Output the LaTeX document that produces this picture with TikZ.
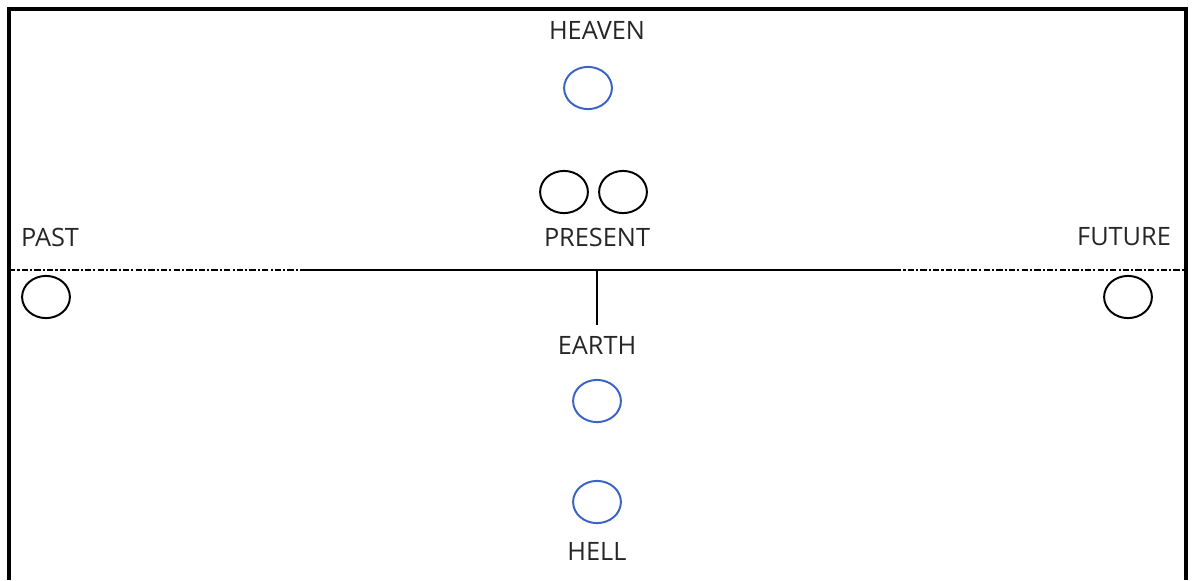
\documentclass[tikz,border=0pt]{standalone}
\usepackage{fontspec}
\setmainfont{Open Sans}
\usetikzlibrary{positioning,shapes.geometric}
\definecolor{ringblue}{HTML}{3A63C4}
\definecolor{textgray}{HTML}{262626}

\begin{document}
\begin{tikzpicture}[
  x=0.025cm, y=-0.025cm,
  font=\fontsize{18}{21}\selectfont,
  lbl/.style={text=textgray,inner sep=0pt,anchor=center},
  ring/.style={draw=black,line width=1.4pt,ellipse,minimum width=34pt,minimum height=30pt,inner sep=0pt},
  bluering/.style={ring,draw=ringblue},
  frame/.style={line width=2.4pt},
  axis/.style={line width=1.7pt},
  dashaxis/.style={line width=1.9pt,dash pattern=on 4.5pt off 1.5pt on 1.5pt off 1.5pt}
]
\useasboundingbox (0,0) rectangle (1194,580);
% frame, open at the bottom
\draw[frame] (9,580) -- (9,9) -- (1186,9) -- (1186,580);

% heaven
\node[lbl] (heaven) at (597,30) {HEAVEN};
\node[bluering] (heavenring) at (588,88) {};

% present
\node[ring] (presentl) at (564,192) {};
\node[ring] (presentr) at (623,192) {};
\node[lbl] (present) at (597,237) {PRESENT};
\node[lbl] (past) at (50,237) {PAST};
\node[lbl] (future) at (1124,237) {FUTURE};

% time line
\coordinate (lineL) at (9,270);
\coordinate (pastend) at (300,270);
\coordinate (mid) at (597,270);
\coordinate (futurestart) at (895,270);
\coordinate (lineR) at (1186,270);
\draw[dashaxis] (lineL) -- (pastend);
\draw[axis] (pastend) -- (futurestart);
\draw[dashaxis] (futurestart) -- (lineR);
\coordinate (stem) at (597,325);
\draw[axis] (mid) -- (stem);

\node[ring] (pastring) at (46,297) {};
\node[ring] (futurering) at (1128,297) {};

% earth and hell
\node[lbl] (earth) at (597,345) {EARTH};
\node[bluering] (earthring) at (597,401) {};
\node[bluering] (hellring) at (597,502) {};
\node[lbl] (hell) at (597,551) {HELL};
\end{tikzpicture}
\end{document}
